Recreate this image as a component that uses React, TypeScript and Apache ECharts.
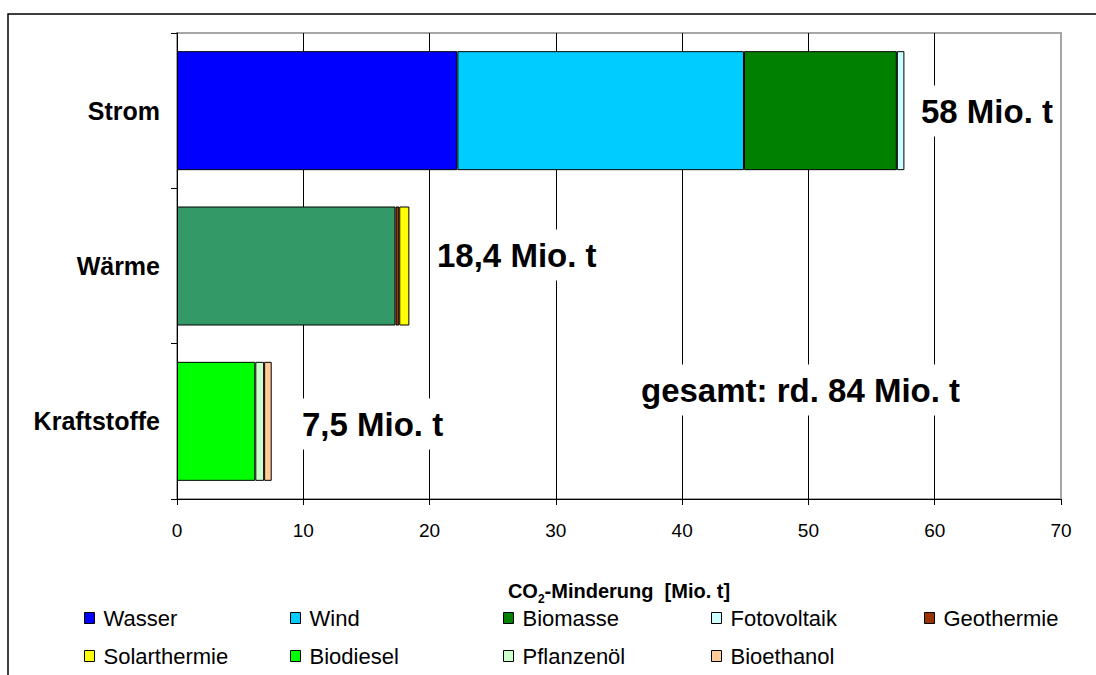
import React, { useEffect, useRef } from "react";
import * as echarts from "echarts";

// Sectors (y-axis categories), top to bottom
const categories = ["Strom", "Wärme", "Kraftstoffe"];

// CO2 reduction per source and sector [Mio. t]
const wasser = [22.2, null, null];
const wind = [22.7, null, null];
const biomasse = [12.1, 17.3, null];
const fotovoltaik = [0.6, null, null];
const geothermie = [null, 0.3, null];
const solarthermie = [null, 0.8, null];
const biodiesel = [null, null, 6.2];
const pflanzenoel = [null, null, 0.7];
const bioethanol = [null, null, 0.6];

// Totals per sector and overall [Mio. t]
const totals = [58, 18.4, 7.5];
const grandTotal = 84;

const xTicks = [0, 10, 20, 30, 40, 50, 60, 70];

const FONT = "'Liberation Sans', Arial, Helvetica, sans-serif";

const fmt = (v: number) => String(v).replace(".", ",");

export default function App() {
  const ref = useRef<HTMLDivElement>(null);

  useEffect(() => {
    document.body.style.margin = "0";
    if (!ref.current) return;
    const chart = echarts.init(ref.current, undefined, { renderer: "svg" });

    const sources = [
      { name: "Wasser", data: wasser, color: "#0000FF" },
      { name: "Wind", data: wind, color: "#00CCFF" },
      { name: "Biomasse", data: biomasse, color: "#008000" },
      { name: "Fotovoltaik", data: fotovoltaik, color: "#CCFFFF" },
      { name: "Geothermie", data: geothermie, color: "#993300" },
      { name: "Solarthermie", data: solarthermie, color: "#FFFF00" },
      { name: "Biodiesel", data: biodiesel, color: "#00FF00" },
      { name: "Pflanzenöl", data: pflanzenoel, color: "#CCFFCC" },
      { name: "Bioethanol", data: bioethanol, color: "#FFCC99" },
    ];

    const series = sources.map((s) => ({
      name: s.name,
      type: "bar",
      stack: "total",
      barWidth: 119,
      itemStyle: { color: s.color, borderColor: "#000", borderWidth: 1 },
      data: s.data.map((v, i) =>
        // heat from biomass is drawn in its own shade
        s.name === "Biomasse" && i === 1
          ? { value: v, itemStyle: { color: "#339966" } }
          : v
      ),
    }));

    // legend laid out as a 5-column grid
    const legendCols = [84, 290, 503, 711, 924];
    const legendRows = [607, 645];
    const legends = sources.map((s, i) => ({
      data: [s.name],
      left: legendCols[i % 5],
      top: legendRows[Math.floor(i / 5)],
      padding: 0,
      icon: "rect",
      itemWidth: 10,
      itemHeight: 11,
      itemStyle: { borderColor: "#000", borderWidth: 1 },
      selectedMode: false,
      textStyle: {
        fontFamily: FONT,
        fontSize: 22,
        color: "#000",
        lineHeight: 22,
        padding: [0, 0, 0, 4],
      },
    }));

    const bigText = (text: string, x: number, y: number) => ({
      type: "text",
      x,
      y,
      z: 100,
      style: {
        text,
        fontFamily: FONT,
        fontSize: 33,
        fontWeight: "bold",
        fill: "#000",
        backgroundColor: "#fff",
        padding: [9, 4],
        verticalAlign: "middle",
        align: "left",
      },
    });

    chart.setOption({
      animation: false,
      backgroundColor: "#fff",
      grid: {
        left: 177,
        top: 33,
        right: 35,
        bottom: 176,
        show: true,
        backgroundColor: "#fff",
        borderColor: "#a6a6a6",
        borderWidth: 2,
      },
      legend: legends,
      xAxis: {
        type: "value",
        min: xTicks[0],
        max: xTicks[xTicks.length - 1],
        interval: 10,
        axisLine: { show: true, lineStyle: { color: "#000", width: 1 } },
        axisTick: { show: true, inside: false, length: 6, lineStyle: { color: "#000" } },
        axisLabel: { fontFamily: FONT, fontSize: 19, color: "#000", margin: 22 },
        splitLine: {
          show: true,
          showMinLine: false,
          showMaxLine: false,
          lineStyle: { color: "#000", width: 1 },
        },
        name: "{a|CO}{s|2}{a|-Minderung  [Mio. t]}",
        nameLocation: "middle",
        nameGap: 80,
        nameTextStyle: {
          rich: {
            a: { fontFamily: FONT, fontSize: 20, fontWeight: "bold", color: "#000", lineHeight: 22, verticalAlign: "bottom" },
            s: { fontFamily: FONT, fontSize: 12, fontWeight: "bold", color: "#000", lineHeight: 14, verticalAlign: "bottom", padding: [0, 0, -4, 0] },
          },
        },
      },
      yAxis: {
        type: "category",
        inverse: true,
        data: categories,
        axisLine: { show: true, lineStyle: { color: "#000", width: 1 } },
        axisTick: { show: true, inside: false, length: 6, alignWithLabel: false, lineStyle: { color: "#000" } },
        axisLabel: { fontFamily: FONT, fontSize: 25, fontWeight: "bold", color: "#000", margin: 17 },
        splitLine: { show: false },
      },
      series,
      graphic: [
        {
          type: "polyline",
          z: 100,
          shape: { points: [[8, 700], [8, 14], [1110, 14]] },
          style: { stroke: "#000", lineWidth: 1.5, fill: "none" },
        },
        bigText(`${fmt(totals[0])} Mio. t`, 917, 111),
        bigText(`${fmt(totals[1])} Mio. t`, 433, 255),
        bigText(`${fmt(totals[2])} Mio. t`, 298, 424),
        bigText(`gesamt: rd. ${grandTotal} Mio. t`, 637, 390),
      ],
    });

    return () => chart.dispose();
  }, []);

  return <div ref={ref} style={{ width: 1096, height: 675 }} />;
}
